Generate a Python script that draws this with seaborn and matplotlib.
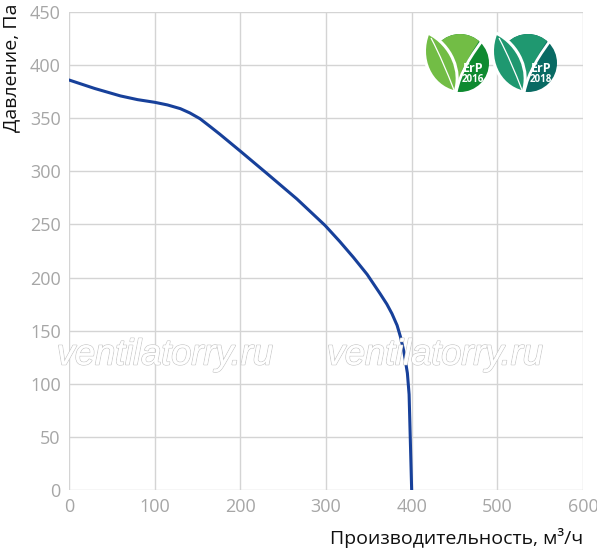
import numpy as np
import pandas as pd
import matplotlib.pyplot as plt
import seaborn as sns
from matplotlib.patches import Circle, PathPatch, Polygon
from matplotlib.path import Path
import matplotlib.patheffects as pe

# Напорная характеристика вентилятора
flow = [0, 30, 60, 80, 100, 115, 130, 141, 153, 165, 176, 188, 200, 231, 266, 299,
        316, 332, 348, 363, 371, 377, 383, 387, 391, 395, 397, 398, 399, 400]
pressure = [386, 378, 371, 367.5, 365, 362.5, 359, 355, 349.5, 342, 335, 327, 319, 298, 274, 249,
            234, 219, 203, 185, 175, 166, 155, 144, 130, 110, 90, 60, 30, 0]

x_ticks = [0, 100, 200, 300, 400, 500, 600]
y_ticks = [0, 50, 100, 150, 200, 250, 300, 350, 400, 450]

badges = [("2016", "#72bd45", "#0f8a30"), ("2018", "#1f9870", "#096a63")]

sns.set_theme(style="whitegrid", rc={
    "grid.color": "#d4d4d4",
    "grid.linewidth": 1.0,
    "axes.edgecolor": "#d4d4d4",
})
plt.rcParams["font.family"] = ["Open Sans", "DejaVu Sans"]

df = pd.DataFrame({"flow": flow, "pressure": pressure})

W, H = 597, 552
fig = plt.figure(figsize=(W / 100, H / 100), dpi=100)
ax = fig.add_axes([69 / W, 62 / H, 514 / W, 478 / H])

sns.lineplot(data=df, x="flow", y="pressure", sort=False, color="#17409a",
             linewidth=2.2, ax=ax, zorder=5)

ax.set_xlim(0, 600)
ax.set_ylim(0, 450)
ax.set_xticks(x_ticks)
ax.set_yticks(y_ticks)
ax.tick_params(axis="both", colors="#a6a6a6", labelsize=13, length=0, pad=6)
for s in ax.spines.values():
    s.set_visible(False)
ax.set_xlabel("")
ax.set_ylabel("")

fig.text(583 / W, 1 - 538 / H, "Производительность, м³/ч", fontsize=14, color="#111111",
         ha="right", va="center")
fig.text(11 / W, 1 - 4 / H, "Давление, Па", fontsize=14, color="#111111",
         rotation=90, ha="center", va="top")

# оверлей в пиксельных координатах для водяных знаков и значков
ov = fig.add_axes([0, 0, 1, 1], zorder=10)
ov.set_xlim(0, W)
ov.set_ylim(H, 0)
ov.axis("off")
ov.patch.set_alpha(0)

for xc in [165, 435]:
    ov.text(xc, 355, "ventilatorry.ru", ha="center", va="center",
            fontsize=26, style="italic", family="Liberation Sans", color="white",
            path_effects=[pe.withStroke(linewidth=1.1, foreground="#c8c8c8"), pe.Normal()],
            zorder=1)

C4 = Path.CURVE4
for i, (year, c1, c2) in enumerate(badges):
    dx = i * 68
    circ = Circle((460 + dx, 63), 29, facecolor=c2, edgecolor="none", zorder=2)
    ov.add_patch(circ)
    # светлая часть слева сверху, обрезана кругом
    light = Polygon([(425 + dx, 30), (486 + dx, 30), (472 + dx, 52), (462 + dx, 70),
                     (456 + dx, 95), (425 + dx, 95)], facecolor=c1, edgecolor="none", zorder=3)
    ov.add_patch(light)
    light.set_clip_path(circ)
    # лист с белым контуром
    ov.add_patch(PathPatch(Path([(428 + dx, 33), (418 + dx, 58), (430 + dx, 86), (455 + dx, 92),
                                 (462 + dx, 72), (452 + dx, 45), (428 + dx, 33)],
                                [Path.MOVETO, C4, C4, C4, C4, C4, C4]),
                           facecolor=c1, edgecolor="white", lw=2.2, zorder=4))
    # прожилка
    ov.add_patch(PathPatch(Path([(431 + dx, 38), (440 + dx, 55), (447 + dx, 72), (454 + dx, 90)],
                                [Path.MOVETO, C4, C4, C4]),
                           facecolor="none", edgecolor="white", lw=0.9, zorder=5))
    # край второго листа
    ov.add_patch(PathPatch(Path([(485 + dx, 37), (472 + dx, 54), (460 + dx, 72), (456 + dx, 93)],
                                [Path.MOVETO, C4, C4, C4]),
                           facecolor="none", edgecolor="white", lw=2.0, zorder=6))
    ov.text(473 + dx, 68, "ErP", ha="center", va="center", color="white",
            fontsize=9, weight="bold", zorder=7)
    ov.text(473 + dx, 79.5, year, ha="center", va="center", color="white",
            fontsize=7, weight="bold", zorder=7)

fig.savefig("out.png", dpi=100, facecolor="white")
